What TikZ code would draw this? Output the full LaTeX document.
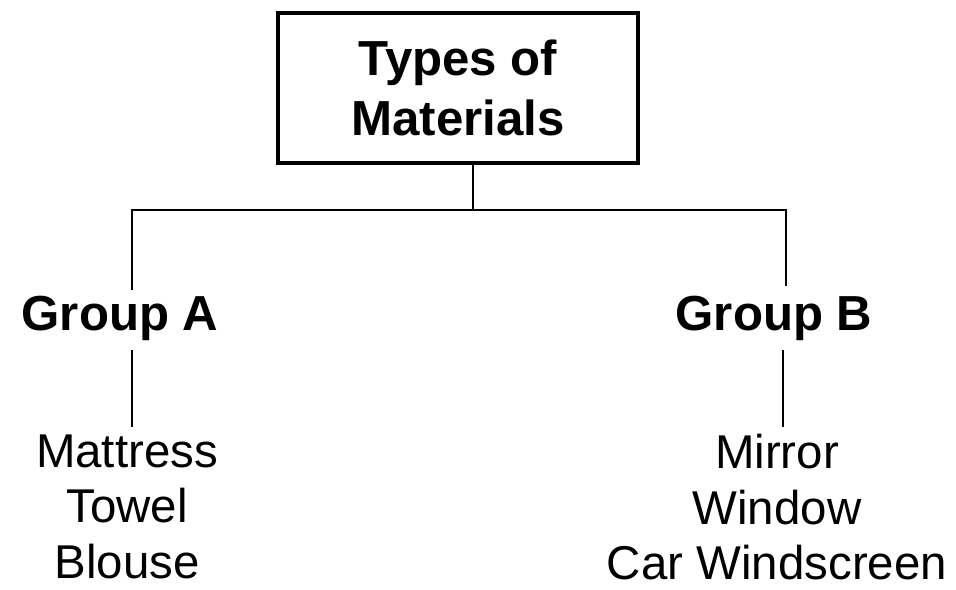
\documentclass[tikz,border=0pt]{standalone}
\usepackage{fontspec}
\setmainfont{Liberation Sans}
\usepackage{tikz}
\usetikzlibrary{positioning, calc}
\newcommand{\headsize}{\fontsize{28}{34}\selectfont}
\newcommand{\itemsize}{\fontsize{27}{31.6}\selectfont}
\tikzset{>=stealth}

\begin{document}
\begin{tikzpicture}[x=0.02cm, y=-0.02cm,
		rootbox/.style={draw, line width=2.3pt, minimum width=7.2cm, minimum height=3cm, align=center, font=\headsize\bfseries},
		grouplabel/.style={anchor=base, inner sep=0pt, font=\headsize\bfseries},
		itemlist/.style={anchor=north, inner sep=0pt, align=center, font=\itemsize},
		link/.style={line width=1.4pt}]
			\useasboundingbox (0,0) rectangle (956,589);
			
			\node [rootbox] (root) at (458,88) {Types of\\Materials};
			
			\node [grouplabel] (groupA) at (120,330) {Group A};
			\node [grouplabel] (groupB) at (774,330) {Group B};
			
			\node [itemlist] (listA) at (127,434) {Mattress\\Towel\\Blouse};
			\node [itemlist] (listB) at (777,434) {Mirror\\Window\\Car Windscreen};
			
			% branches
			\coordinate (hub) at (473,210);
			\coordinate (legA) at (132,290);
			\coordinate (legB) at (786,286);
			\draw [link] (hub |- root.south) -- (hub);
			\draw [link] (legA) |- (hub) -| (legB);
			
			\coordinate (subA) at (132,350);
			\coordinate (subB) at (783,350);
			\coordinate (endA) at (132,427);
			\coordinate (endB) at (783,427);
			\draw [link] (subA) -- (endA);
			\draw [link] (subB) -- (endB);
	\end{tikzpicture}
\end{document}
